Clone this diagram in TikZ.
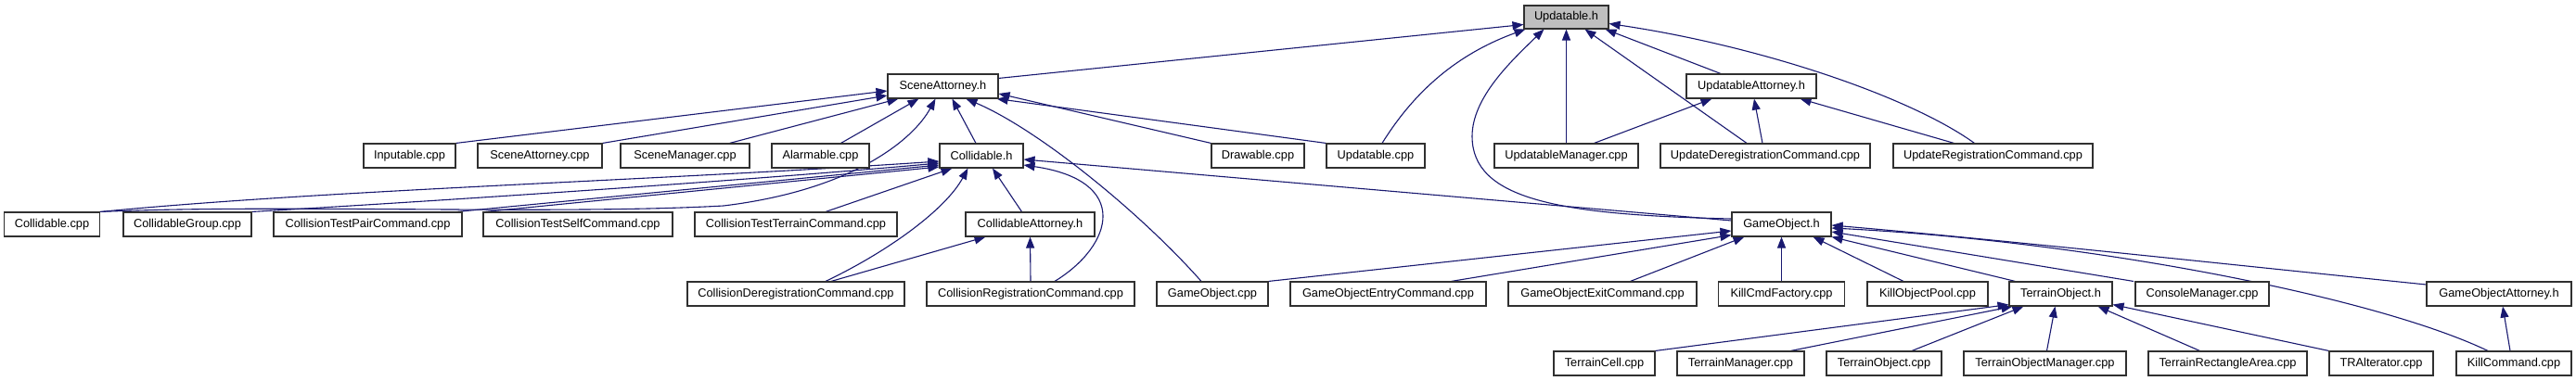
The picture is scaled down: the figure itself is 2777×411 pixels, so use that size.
\documentclass[tikz,border=0pt]{standalone}
\usepackage{fontspec}
\setmainfont{Liberation Sans}
\usetikzlibrary{arrows.meta,calc}
\definecolor{edgeblue}{HTML}{191970}
\definecolor{rootgray}{HTML}{BFBFBF}
\definecolor{boxline}{HTML}{303030}
\pgfdeclarelayer{bg}
\pgfdeclarelayer{paper}
\pgfsetlayers{paper,bg,main}
\begin{document}
\begin{tikzpicture}[x=1pt,y=-1pt,
  box/.style={draw=boxline, line width=1.1pt, fill=white, minimum height=26pt, inner sep=0pt,
    font=\fontsize{12.8}{14}\selectfont, anchor=center},
  edge/.style={draw=edgeblue, line width=1.1pt, -{Triangle[length=12pt,width=9pt]}}]
\begin{pgfonlayer}{paper}
\fill[white] (0,0) rectangle (2777,411);
\end{pgfonlayer}
\useasboundingbox (0,0) rectangle (2777,411);
% row 0 / 1
\node[box, minimum width=91pt, minimum height=25pt, fill=rootgray] (upd) at (1688.5,18.5) {Updatable.h};
\node[box, minimum width=119pt] (sah) at (1016.5,93) {SceneAttorney.h};
\node[box, minimum width=140pt] (uatt) at (1888,93) {UpdatableAttorney.h};
% row 2
\node[box, minimum width=99pt] (inp) at (441.5,168) {Inputable.cpp};
\node[box, minimum width=134pt] (sacpp) at (582,168) {SceneAttorney.cpp};
\node[box, minimum width=139pt] (smgr) at (738.5,168) {SceneManager.cpp};
\node[box, minimum width=105pt] (alarm) at (884.5,168) {Alarmable.cpp};
\node[box, minimum width=90pt] (colh) at (1058,168) {Collidable.h};
\node[box, minimum width=100pt] (drw) at (1356,168) {Drawable.cpp};
\node[box, minimum width=106pt] (updcpp) at (1483,168) {Updatable.cpp};
\node[box, minimum width=155pt] (umgr) at (1688.5,168) {UpdatableManager.cpp};
\node[box, minimum width=226pt] (udereg) at (1903,168) {UpdateDeregistrationCommand.cpp};
\node[box, minimum width=215pt] (ureg) at (2148.5,168) {UpdateRegistrationCommand.cpp};
% row 3
\node[box, minimum width=103pt] (colcpp) at (56,242) {Collidable.cpp};
\node[box, minimum width=138pt] (colgrp) at (202,242) {CollidableGroup.cpp};
\node[box, minimum width=203pt] (ctpair) at (396.5,242) {CollisionTestPairCommand.cpp};
\node[box, minimum width=204pt] (ctself) at (623,242) {CollisionTestSelfCommand.cpp};
\node[box, minimum width=218pt] (ctterr) at (858,242) {CollisionTestTerrainCommand.cpp};
\node[box, minimum width=139pt] (colatt) at (1110.5,242) {CollidableAttorney.h};
\node[box, minimum width=107pt] (goh) at (1920.5,242) {GameObject.h};
% row 4
\node[box, minimum width=234pt] (cdereg) at (858,317) {CollisionDeregistrationCommand.cpp};
\node[box, minimum width=224pt] (creg) at (1111,317) {CollisionRegistrationCommand.cpp};
\node[box, minimum width=120pt] (gocpp) at (1307,317) {GameObject.cpp};
\node[box, minimum width=211pt] (goentry) at (1496.5,317) {GameObjectEntryCommand.cpp};
\node[box, minimum width=203pt] (goexit) at (1727.5,317) {GameObjectExitCommand.cpp};
\node[box, minimum width=136pt] (kcf) at (1920.5,317) {KillCmdFactory.cpp};
\node[box, minimum width=130pt] (kop) at (2078,317) {KillObjectPool.cpp};
\node[box, minimum width=111pt] (toh) at (2221.5,317) {TerrainObject.h};
\node[box, minimum width=144pt] (cmgr) at (2374,317) {ConsoleManager.cpp};
\node[box, minimum width=156pt] (goatt) at (2694,317) {GameObjectAttorney.h};
% row 5
\node[box, minimum width=109pt] (tcell) at (1729.5,392) {TerrainCell.cpp};
\node[box, minimum width=137pt] (tmgr) at (1876.5,392) {TerrainManager.cpp};
\node[box, minimum width=124pt] (tocpp) at (2031,392) {TerrainObject.cpp};
\node[box, minimum width=175pt] (tomgr) at (2204.5,392) {TerrainObjectManager.cpp};
\node[box, minimum width=171pt] (tra) at (2401.5,392) {TerrainRectangleArea.cpp};
\node[box, minimum width=112pt] (tral) at (2567,392) {TRAlterator.cpp};
\node[box, minimum width=124pt] (kcmd) at (2710,392) {KillCommand.cpp};

\begin{pgfonlayer}{bg}
% --- Updatable.h
\draw[edge] ($(sah.north east)+(0,5)$) -- ($(upd.west)+(0,8)$);
\draw[edge] ($(updcpp.north)+(7,0)$) .. controls (1530,90) and (1580,55) .. ($(upd.south west)+(2,0)$);
\draw[edge] ($(goh.west)+(0,-6)$) .. controls (1680,232) and (1587,215) .. (1587,147)
  .. controls (1587,105) and (1630,65) .. ($(upd.south west)+(22,0)$);
\draw[edge] (umgr.north) -- (upd.south);
\draw[edge] ($(udereg.north)+(-20,0)$) -- ($(upd.south)+(20,0)$);
\draw[edge] ($(uatt.north)+(-33,0)$) -- ($(upd.south east)+(-4,0)$);
\draw[edge] ($(ureg.north)+(-20,0)$) .. controls (2060,105) and (1900,50) .. ($(upd.east)+(0,7)$);
% --- UpdatableAttorney.h
\draw[edge] ($(umgr.north)+(30,0)$) -- ($(uatt.south west)+(28,0)$);
\draw[edge] ($(udereg.north)+(-3,0)$) -- ($(uatt.south)+(3,0)$);
\draw[edge] ($(ureg.north)+(-42,0)$) -- ($(uatt.south east)+(-18,0)$);
% --- SceneAttorney.h
\draw[edge] (inp.north east) -- ($(sah.west)+(0,5)$);
\draw[edge] (sacpp.north east) -- ($(sah.west)+(0,10)$);
\draw[edge] ($(smgr.north east)+(-22,0)$) -- ($(sah.south west)+(12,0)$);
\draw[edge] ($(alarm.north)+(22,0)$) -- ($(sah.south west)+(34,0)$);
\draw[edge] (colcpp.north east) .. controls (300,220) and (600,232) .. (780,222)
  .. controls (920,205) and (985,150) .. ($(sah.south west)+(52,0)$);
\draw[edge] ($(colh.north)+(-6,0)$) -- ($(sah.south west)+(70,0)$);
\draw[edge] ($(gocpp.north)+(-12,0)$) .. controls (1230,230) and (1120,140) .. ($(sah.south west)+(85,0)$);
\draw[edge] (drw.north west) -- ($(sah.east)+(0,8)$);
\draw[edge] (updcpp.north west) -- ($(sah.south east)+(-2,0)$);
% --- Collidable.h
\draw[edge] (colcpp.north east) .. controls (350,205) and (700,195) .. ($(colh.west)+(0,6)$);
\draw[edge] (colgrp.north east) .. controls (500,215) and (800,195) .. ($(colh.west)+(0,8)$);
\draw[edge] ($(ctpair.north east)+(-6,0)$) -- ($(colh.west)+(0,10)$);
\draw[edge] ($(ctself.north west)+(2,0)$) -- ($(colh.west)+(0,12)$);
\draw[edge] ($(ctterr.north)+(32,0)$) -- ($(colh.south west)+(14,0)$);
\draw[edge] ($(cdereg.north)+(32,0)$) .. controls (960,270) and (1020,225) .. ($(colh.south west)+(31,0)$);
\draw[edge] ($(colatt.north)+(-9,0)$) -- ($(colh.south)+(12,0)$);
\draw[edge] ($(creg.north)+(26,0)$) .. controls (1200,265) and (1220,195) .. ($(colh.east)+(0,10)$);
\draw[edge] ($(goh.west)+(0,-4)$) -- ($(colh.east)+(0,4)$);
% --- CollidableAttorney.h
\draw[edge] ($(cdereg.north)+(38,0)$) -- ($(colatt.south west)+(22,0)$);
\draw[edge] (creg.north) -- (colatt.south);
% --- GameObject.h
\draw[edge] (gocpp.north east) -- ($(goh.west)+(0,7)$);
\draw[edge] ($(goentry.north)+(68,0)$) -- ($(goh.south west)+(0,-2)$);
\draw[edge] ($(goexit.north)+(30,0)$) -- ($(goh.south west)+(14,0)$);
\draw[edge] (kcf.north) -- (goh.south);
\draw[edge] ($(kop.north)+(-26,0)$) -- ($(goh.south east)+(-20,0)$);
\draw[edge] ($(toh.north)+(-49,0)$) -- (goh.south east);
\draw[edge] ($(cmgr.north)+(-74,0)$) -- ($(goh.east)+(0,8)$);
\draw[edge] ($(goatt.west)+(0,-10)$) .. controls (2400,285) and (2150,258) .. ($(goh.east)+(0,1)$);
\draw[edge] ($(kcmd.north)+(-28,0)$) .. controls (2560,320) and (2250,260) .. ($(goh.east)+(0,4)$);
% --- GameObjectAttorney.h
\draw[edge] ($(kcmd.north)+(-4,0)$) -- ($(goatt.south)+(4,0)$);
% --- TerrainObject.h
\draw[edge] (tcell.north east) -- ($(toh.south west)+(0,-2)$);
\draw[edge] ($(tmgr.north)+(54,0)$) -- ($(toh.south west)+(4,0)$);
\draw[edge] ($(tocpp.north)+(30,0)$) -- ($(toh.south west)+(16,0)$);
\draw[edge] ($(tomgr.north)+(2,0)$) -- ($(toh.south)+(-6,0)$);
\draw[edge] ($(tra.north)+(-30,0)$) -- ($(toh.south)+(40,0)$);
\draw[edge] (tral.north west) -- ($(toh.south east)+(0,-2)$);
\end{pgfonlayer}
\end{tikzpicture}
\end{document}
